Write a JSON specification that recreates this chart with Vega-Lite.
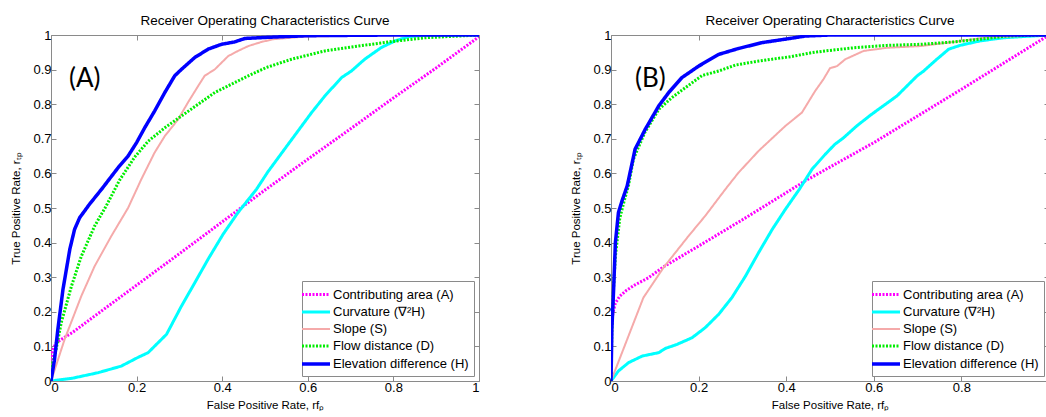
{
  "$schema": "https://vega.github.io/schema/vega-lite/v6.json",
  "padding": {"left": 10, "top": 13, "right": 0, "bottom": 0},
  "background": "white",
  "spacing": 90,
  "config": {
    "font": "Liberation Sans",
    "view": {"stroke": "#8a8a8a", "strokeWidth": 1},
    "title": {"font": "Liberation Sans", "fontSize": 13.5, "fontWeight": "normal", "color": "black", "offset": 2},
    "axis": {
      "grid": false, "domain": false, "tickColor": "#8a8a8a", "tickSize": -5, "format": "~g",
      "labelFont": "Liberation Sans", "labelFontSize": 13, "labelColor": "black", "labelPadding": 5,
      "titleFont": "Liberation Sans", "titleFontSize": 11.5, "titleFontWeight": "normal", "titleColor": "black"
    },
    "legend": {
      "orient": "bottom-right", "offset": 5, "strokeColor": "#8a8a8a", "fillColor": "white",
      "padding": 5, "symbolType": "M-2,0H2", "symbolSize": 196, "labelFont": "Liberation Sans",
      "labelFontSize": 13, "labelColor": "black", "rowPadding": 1.5, "labelLimit": 0, "labelOffset": 8
    }
  },
  "datasets": {
    "roc": [
      {"panel": "A", "series": "Contributing area (A)", "fpr": 0, "tpr": 0.06},
      {"panel": "A", "series": "Contributing area (A)", "fpr": 0.004, "tpr": 0.09},
      {"panel": "A", "series": "Contributing area (A)", "fpr": 0.012, "tpr": 0.11},
      {"panel": "A", "series": "Contributing area (A)", "fpr": 0.03, "tpr": 0.125},
      {"panel": "A", "series": "Contributing area (A)", "fpr": 0.05, "tpr": 0.14},
      {"panel": "A", "series": "Contributing area (A)", "fpr": 0.1, "tpr": 0.186},
      {"panel": "A", "series": "Contributing area (A)", "fpr": 0.2, "tpr": 0.277},
      {"panel": "A", "series": "Contributing area (A)", "fpr": 0.3, "tpr": 0.368},
      {"panel": "A", "series": "Contributing area (A)", "fpr": 0.4, "tpr": 0.46},
      {"panel": "A", "series": "Contributing area (A)", "fpr": 0.5, "tpr": 0.552},
      {"panel": "A", "series": "Contributing area (A)", "fpr": 0.6, "tpr": 0.641},
      {"panel": "A", "series": "Contributing area (A)", "fpr": 0.7, "tpr": 0.729},
      {"panel": "A", "series": "Contributing area (A)", "fpr": 0.8, "tpr": 0.818},
      {"panel": "A", "series": "Contributing area (A)", "fpr": 0.9, "tpr": 0.905},
      {"panel": "A", "series": "Contributing area (A)", "fpr": 1, "tpr": 0.995},

      {"panel": "A", "series": "Curvature (∇²H)", "fpr": 0, "tpr": 0},
      {"panel": "A", "series": "Curvature (∇²H)", "fpr": 0.05, "tpr": 0.008},
      {"panel": "A", "series": "Curvature (∇²H)", "fpr": 0.11, "tpr": 0.024},
      {"panel": "A", "series": "Curvature (∇²H)", "fpr": 0.164, "tpr": 0.043},
      {"panel": "A", "series": "Curvature (∇²H)", "fpr": 0.203, "tpr": 0.068},
      {"panel": "A", "series": "Curvature (∇²H)", "fpr": 0.227, "tpr": 0.082},
      {"panel": "A", "series": "Curvature (∇²H)", "fpr": 0.27, "tpr": 0.135},
      {"panel": "A", "series": "Curvature (∇²H)", "fpr": 0.305, "tpr": 0.217},
      {"panel": "A", "series": "Curvature (∇²H)", "fpr": 0.336, "tpr": 0.284},
      {"panel": "A", "series": "Curvature (∇²H)", "fpr": 0.367, "tpr": 0.352},
      {"panel": "A", "series": "Curvature (∇²H)", "fpr": 0.402, "tpr": 0.424},
      {"panel": "A", "series": "Curvature (∇²H)", "fpr": 0.437, "tpr": 0.487},
      {"panel": "A", "series": "Curvature (∇²H)", "fpr": 0.48, "tpr": 0.554},
      {"panel": "A", "series": "Curvature (∇²H)", "fpr": 0.507, "tpr": 0.605},
      {"panel": "A", "series": "Curvature (∇²H)", "fpr": 0.554, "tpr": 0.684},
      {"panel": "A", "series": "Curvature (∇²H)", "fpr": 0.609, "tpr": 0.776},
      {"panel": "A", "series": "Curvature (∇²H)", "fpr": 0.64, "tpr": 0.824},
      {"panel": "A", "series": "Curvature (∇²H)", "fpr": 0.679, "tpr": 0.877},
      {"panel": "A", "series": "Curvature (∇²H)", "fpr": 0.702, "tpr": 0.896},
      {"panel": "A", "series": "Curvature (∇²H)", "fpr": 0.733, "tpr": 0.93},
      {"panel": "A", "series": "Curvature (∇²H)", "fpr": 0.772, "tpr": 0.964},
      {"panel": "A", "series": "Curvature (∇²H)", "fpr": 0.804, "tpr": 0.983},
      {"panel": "A", "series": "Curvature (∇²H)", "fpr": 0.835, "tpr": 0.995},
      {"panel": "A", "series": "Curvature (∇²H)", "fpr": 0.87, "tpr": 0.999},
      {"panel": "A", "series": "Curvature (∇²H)", "fpr": 1, "tpr": 1},

      {"panel": "A", "series": "Slope (S)", "fpr": 0, "tpr": 0},
      {"panel": "A", "series": "Slope (S)", "fpr": 0.032, "tpr": 0.121},
      {"panel": "A", "series": "Slope (S)", "fpr": 0.071, "tpr": 0.246},
      {"panel": "A", "series": "Slope (S)", "fpr": 0.102, "tpr": 0.332},
      {"panel": "A", "series": "Slope (S)", "fpr": 0.141, "tpr": 0.419},
      {"panel": "A", "series": "Slope (S)", "fpr": 0.18, "tpr": 0.5},
      {"panel": "A", "series": "Slope (S)", "fpr": 0.211, "tpr": 0.583},
      {"panel": "A", "series": "Slope (S)", "fpr": 0.242, "tpr": 0.66},
      {"panel": "A", "series": "Slope (S)", "fpr": 0.266, "tpr": 0.708},
      {"panel": "A", "series": "Slope (S)", "fpr": 0.297, "tpr": 0.756},
      {"panel": "A", "series": "Slope (S)", "fpr": 0.32, "tpr": 0.805},
      {"panel": "A", "series": "Slope (S)", "fpr": 0.344, "tpr": 0.853},
      {"panel": "A", "series": "Slope (S)", "fpr": 0.359, "tpr": 0.882},
      {"panel": "A", "series": "Slope (S)", "fpr": 0.383, "tpr": 0.901},
      {"panel": "A", "series": "Slope (S)", "fpr": 0.414, "tpr": 0.939},
      {"panel": "A", "series": "Slope (S)", "fpr": 0.437, "tpr": 0.954},
      {"panel": "A", "series": "Slope (S)", "fpr": 0.461, "tpr": 0.968},
      {"panel": "A", "series": "Slope (S)", "fpr": 0.492, "tpr": 0.98},
      {"panel": "A", "series": "Slope (S)", "fpr": 0.52, "tpr": 0.988},
      {"panel": "A", "series": "Slope (S)", "fpr": 0.6, "tpr": 0.996},
      {"panel": "A", "series": "Slope (S)", "fpr": 0.8, "tpr": 0.999},
      {"panel": "A", "series": "Slope (S)", "fpr": 1, "tpr": 1},

      {"panel": "A", "series": "Flow distance (D)", "fpr": 0, "tpr": 0},
      {"panel": "A", "series": "Flow distance (D)", "fpr": 0.004, "tpr": 0.05},
      {"panel": "A", "series": "Flow distance (D)", "fpr": 0.012, "tpr": 0.092},
      {"panel": "A", "series": "Flow distance (D)", "fpr": 0.024, "tpr": 0.169},
      {"panel": "A", "series": "Flow distance (D)", "fpr": 0.048, "tpr": 0.275},
      {"panel": "A", "series": "Flow distance (D)", "fpr": 0.071, "tpr": 0.361},
      {"panel": "A", "series": "Flow distance (D)", "fpr": 0.102, "tpr": 0.448},
      {"panel": "A", "series": "Flow distance (D)", "fpr": 0.129, "tpr": 0.506},
      {"panel": "A", "series": "Flow distance (D)", "fpr": 0.16, "tpr": 0.58},
      {"panel": "A", "series": "Flow distance (D)", "fpr": 0.196, "tpr": 0.648},
      {"panel": "A", "series": "Flow distance (D)", "fpr": 0.227, "tpr": 0.693},
      {"panel": "A", "series": "Flow distance (D)", "fpr": 0.266, "tpr": 0.732},
      {"panel": "A", "series": "Flow distance (D)", "fpr": 0.305, "tpr": 0.766},
      {"panel": "A", "series": "Flow distance (D)", "fpr": 0.344, "tpr": 0.8},
      {"panel": "A", "series": "Flow distance (D)", "fpr": 0.383, "tpr": 0.834},
      {"panel": "A", "series": "Flow distance (D)", "fpr": 0.422, "tpr": 0.858},
      {"panel": "A", "series": "Flow distance (D)", "fpr": 0.461, "tpr": 0.882},
      {"panel": "A", "series": "Flow distance (D)", "fpr": 0.503, "tpr": 0.906},
      {"panel": "A", "series": "Flow distance (D)", "fpr": 0.562, "tpr": 0.93},
      {"panel": "A", "series": "Flow distance (D)", "fpr": 0.64, "tpr": 0.954},
      {"panel": "A", "series": "Flow distance (D)", "fpr": 0.718, "tpr": 0.968},
      {"panel": "A", "series": "Flow distance (D)", "fpr": 0.796, "tpr": 0.981},
      {"panel": "A", "series": "Flow distance (D)", "fpr": 0.874, "tpr": 0.992},
      {"panel": "A", "series": "Flow distance (D)", "fpr": 1, "tpr": 1},

      {"panel": "A", "series": "Elevation difference (H)", "fpr": 0, "tpr": 0},
      {"panel": "A", "series": "Elevation difference (H)", "fpr": 0.008, "tpr": 0.06},
      {"panel": "A", "series": "Elevation difference (H)", "fpr": 0.016, "tpr": 0.149},
      {"panel": "A", "series": "Elevation difference (H)", "fpr": 0.028, "tpr": 0.265},
      {"panel": "A", "series": "Elevation difference (H)", "fpr": 0.044, "tpr": 0.381},
      {"panel": "A", "series": "Elevation difference (H)", "fpr": 0.055, "tpr": 0.438},
      {"panel": "A", "series": "Elevation difference (H)", "fpr": 0.067, "tpr": 0.472},
      {"panel": "A", "series": "Elevation difference (H)", "fpr": 0.09, "tpr": 0.511},
      {"panel": "A", "series": "Elevation difference (H)", "fpr": 0.118, "tpr": 0.554},
      {"panel": "A", "series": "Elevation difference (H)", "fpr": 0.157, "tpr": 0.617},
      {"panel": "A", "series": "Elevation difference (H)", "fpr": 0.18, "tpr": 0.65},
      {"panel": "A", "series": "Elevation difference (H)", "fpr": 0.2, "tpr": 0.689},
      {"panel": "A", "series": "Elevation difference (H)", "fpr": 0.219, "tpr": 0.732},
      {"panel": "A", "series": "Elevation difference (H)", "fpr": 0.242, "tpr": 0.78},
      {"panel": "A", "series": "Elevation difference (H)", "fpr": 0.266, "tpr": 0.834},
      {"panel": "A", "series": "Elevation difference (H)", "fpr": 0.289, "tpr": 0.882},
      {"panel": "A", "series": "Elevation difference (H)", "fpr": 0.305, "tpr": 0.901},
      {"panel": "A", "series": "Elevation difference (H)", "fpr": 0.336, "tpr": 0.935},
      {"panel": "A", "series": "Elevation difference (H)", "fpr": 0.367, "tpr": 0.959},
      {"panel": "A", "series": "Elevation difference (H)", "fpr": 0.398, "tpr": 0.973},
      {"panel": "A", "series": "Elevation difference (H)", "fpr": 0.429, "tpr": 0.98},
      {"panel": "A", "series": "Elevation difference (H)", "fpr": 0.453, "tpr": 0.99},
      {"panel": "A", "series": "Elevation difference (H)", "fpr": 0.5, "tpr": 0.993},
      {"panel": "A", "series": "Elevation difference (H)", "fpr": 0.6, "tpr": 0.998},
      {"panel": "A", "series": "Elevation difference (H)", "fpr": 0.8, "tpr": 1},
      {"panel": "A", "series": "Elevation difference (H)", "fpr": 1, "tpr": 1},

      {"panel": "B", "series": "Contributing area (A)", "fpr": 0, "tpr": 0.15},
      {"panel": "B", "series": "Contributing area (A)", "fpr": 0.002, "tpr": 0.175},
      {"panel": "B", "series": "Contributing area (A)", "fpr": 0.005, "tpr": 0.2},
      {"panel": "B", "series": "Contributing area (A)", "fpr": 0.01, "tpr": 0.225},
      {"panel": "B", "series": "Contributing area (A)", "fpr": 0.02, "tpr": 0.245},
      {"panel": "B", "series": "Contributing area (A)", "fpr": 0.035, "tpr": 0.262},
      {"panel": "B", "series": "Contributing area (A)", "fpr": 0.055, "tpr": 0.278},
      {"panel": "B", "series": "Contributing area (A)", "fpr": 0.085, "tpr": 0.298},
      {"panel": "B", "series": "Contributing area (A)", "fpr": 0.12, "tpr": 0.33},
      {"panel": "B", "series": "Contributing area (A)", "fpr": 0.2, "tpr": 0.39},
      {"panel": "B", "series": "Contributing area (A)", "fpr": 0.3, "tpr": 0.466},
      {"panel": "B", "series": "Contributing area (A)", "fpr": 0.443, "tpr": 0.578},
      {"panel": "B", "series": "Contributing area (A)", "fpr": 0.6, "tpr": 0.689},
      {"panel": "B", "series": "Contributing area (A)", "fpr": 0.8, "tpr": 0.843},
      {"panel": "B", "series": "Contributing area (A)", "fpr": 1, "tpr": 1},

      {"panel": "B", "series": "Curvature (∇²H)", "fpr": 0, "tpr": 0},
      {"panel": "B", "series": "Curvature (∇²H)", "fpr": 0.017, "tpr": 0.029},
      {"panel": "B", "series": "Curvature (∇²H)", "fpr": 0.04, "tpr": 0.053},
      {"panel": "B", "series": "Curvature (∇²H)", "fpr": 0.071, "tpr": 0.072},
      {"panel": "B", "series": "Curvature (∇²H)", "fpr": 0.109, "tpr": 0.082},
      {"panel": "B", "series": "Curvature (∇²H)", "fpr": 0.124, "tpr": 0.094},
      {"panel": "B", "series": "Curvature (∇²H)", "fpr": 0.151, "tpr": 0.106},
      {"panel": "B", "series": "Curvature (∇²H)", "fpr": 0.185, "tpr": 0.125},
      {"panel": "B", "series": "Curvature (∇²H)", "fpr": 0.215, "tpr": 0.154},
      {"panel": "B", "series": "Curvature (∇²H)", "fpr": 0.246, "tpr": 0.193},
      {"panel": "B", "series": "Curvature (∇²H)", "fpr": 0.276, "tpr": 0.241},
      {"panel": "B", "series": "Curvature (∇²H)", "fpr": 0.307, "tpr": 0.303},
      {"panel": "B", "series": "Curvature (∇²H)", "fpr": 0.337, "tpr": 0.371},
      {"panel": "B", "series": "Curvature (∇²H)", "fpr": 0.368, "tpr": 0.438},
      {"panel": "B", "series": "Curvature (∇²H)", "fpr": 0.398, "tpr": 0.496},
      {"panel": "B", "series": "Curvature (∇²H)", "fpr": 0.43, "tpr": 0.554},
      {"panel": "B", "series": "Curvature (∇²H)", "fpr": 0.459, "tpr": 0.612},
      {"panel": "B", "series": "Curvature (∇²H)", "fpr": 0.489, "tpr": 0.655},
      {"panel": "B", "series": "Curvature (∇²H)", "fpr": 0.511, "tpr": 0.684},
      {"panel": "B", "series": "Curvature (∇²H)", "fpr": 0.531, "tpr": 0.703},
      {"panel": "B", "series": "Curvature (∇²H)", "fpr": 0.561, "tpr": 0.737},
      {"panel": "B", "series": "Curvature (∇²H)", "fpr": 0.592, "tpr": 0.768},
      {"panel": "B", "series": "Curvature (∇²H)", "fpr": 0.653, "tpr": 0.824},
      {"panel": "B", "series": "Curvature (∇²H)", "fpr": 0.699, "tpr": 0.882},
      {"panel": "B", "series": "Curvature (∇²H)", "fpr": 0.714, "tpr": 0.896},
      {"panel": "B", "series": "Curvature (∇²H)", "fpr": 0.744, "tpr": 0.93},
      {"panel": "B", "series": "Curvature (∇²H)", "fpr": 0.771, "tpr": 0.959},
      {"panel": "B", "series": "Curvature (∇²H)", "fpr": 0.797, "tpr": 0.97},
      {"panel": "B", "series": "Curvature (∇²H)", "fpr": 0.843, "tpr": 0.983},
      {"panel": "B", "series": "Curvature (∇²H)", "fpr": 0.896, "tpr": 0.992},
      {"panel": "B", "series": "Curvature (∇²H)", "fpr": 1, "tpr": 1},

      {"panel": "B", "series": "Slope (S)", "fpr": 0, "tpr": 0},
      {"panel": "B", "series": "Slope (S)", "fpr": 0.074, "tpr": 0.241},
      {"panel": "B", "series": "Slope (S)", "fpr": 0.12, "tpr": 0.328},
      {"panel": "B", "series": "Slope (S)", "fpr": 0.177, "tpr": 0.419},
      {"panel": "B", "series": "Slope (S)", "fpr": 0.215, "tpr": 0.477},
      {"panel": "B", "series": "Slope (S)", "fpr": 0.261, "tpr": 0.554},
      {"panel": "B", "series": "Slope (S)", "fpr": 0.291, "tpr": 0.602},
      {"panel": "B", "series": "Slope (S)", "fpr": 0.337, "tpr": 0.665},
      {"panel": "B", "series": "Slope (S)", "fpr": 0.398, "tpr": 0.737},
      {"panel": "B", "series": "Slope (S)", "fpr": 0.436, "tpr": 0.776},
      {"panel": "B", "series": "Slope (S)", "fpr": 0.466, "tpr": 0.838},
      {"panel": "B", "series": "Slope (S)", "fpr": 0.485, "tpr": 0.872},
      {"panel": "B", "series": "Slope (S)", "fpr": 0.5, "tpr": 0.904},
      {"panel": "B", "series": "Slope (S)", "fpr": 0.516, "tpr": 0.91},
      {"panel": "B", "series": "Slope (S)", "fpr": 0.535, "tpr": 0.93},
      {"panel": "B", "series": "Slope (S)", "fpr": 0.577, "tpr": 0.954},
      {"panel": "B", "series": "Slope (S)", "fpr": 0.63, "tpr": 0.963},
      {"panel": "B", "series": "Slope (S)", "fpr": 0.706, "tpr": 0.968},
      {"panel": "B", "series": "Slope (S)", "fpr": 0.782, "tpr": 0.98},
      {"panel": "B", "series": "Slope (S)", "fpr": 0.858, "tpr": 0.993},
      {"panel": "B", "series": "Slope (S)", "fpr": 1, "tpr": 1},

      {"panel": "B", "series": "Flow distance (D)", "fpr": 0, "tpr": 0},
      {"panel": "B", "series": "Flow distance (D)", "fpr": 0.002, "tpr": 0.15},
      {"panel": "B", "series": "Flow distance (D)", "fpr": 0.005, "tpr": 0.25},
      {"panel": "B", "series": "Flow distance (D)", "fpr": 0.01, "tpr": 0.36},
      {"panel": "B", "series": "Flow distance (D)", "fpr": 0.02, "tpr": 0.47},
      {"panel": "B", "series": "Flow distance (D)", "fpr": 0.03, "tpr": 0.52},
      {"panel": "B", "series": "Flow distance (D)", "fpr": 0.04, "tpr": 0.565},
      {"panel": "B", "series": "Flow distance (D)", "fpr": 0.051, "tpr": 0.64},
      {"panel": "B", "series": "Flow distance (D)", "fpr": 0.059, "tpr": 0.665},
      {"panel": "B", "series": "Flow distance (D)", "fpr": 0.078, "tpr": 0.72},
      {"panel": "B", "series": "Flow distance (D)", "fpr": 0.109, "tpr": 0.785},
      {"panel": "B", "series": "Flow distance (D)", "fpr": 0.139, "tpr": 0.819},
      {"panel": "B", "series": "Flow distance (D)", "fpr": 0.17, "tpr": 0.848},
      {"panel": "B", "series": "Flow distance (D)", "fpr": 0.208, "tpr": 0.883},
      {"panel": "B", "series": "Flow distance (D)", "fpr": 0.246, "tpr": 0.896},
      {"panel": "B", "series": "Flow distance (D)", "fpr": 0.284, "tpr": 0.913},
      {"panel": "B", "series": "Flow distance (D)", "fpr": 0.329, "tpr": 0.923},
      {"panel": "B", "series": "Flow distance (D)", "fpr": 0.368, "tpr": 0.93},
      {"panel": "B", "series": "Flow distance (D)", "fpr": 0.413, "tpr": 0.938},
      {"panel": "B", "series": "Flow distance (D)", "fpr": 0.459, "tpr": 0.949},
      {"panel": "B", "series": "Flow distance (D)", "fpr": 0.489, "tpr": 0.954},
      {"panel": "B", "series": "Flow distance (D)", "fpr": 0.554, "tpr": 0.963},
      {"panel": "B", "series": "Flow distance (D)", "fpr": 0.63, "tpr": 0.97},
      {"panel": "B", "series": "Flow distance (D)", "fpr": 0.706, "tpr": 0.973},
      {"panel": "B", "series": "Flow distance (D)", "fpr": 0.782, "tpr": 0.98},
      {"panel": "B", "series": "Flow distance (D)", "fpr": 0.858, "tpr": 0.99},
      {"panel": "B", "series": "Flow distance (D)", "fpr": 0.904, "tpr": 0.997},
      {"panel": "B", "series": "Flow distance (D)", "fpr": 1, "tpr": 1},

      {"panel": "B", "series": "Elevation difference (H)", "fpr": 0, "tpr": 0},
      {"panel": "B", "series": "Elevation difference (H)", "fpr": 0.002, "tpr": 0.15},
      {"panel": "B", "series": "Elevation difference (H)", "fpr": 0.006, "tpr": 0.265},
      {"panel": "B", "series": "Elevation difference (H)", "fpr": 0.01, "tpr": 0.4},
      {"panel": "B", "series": "Elevation difference (H)", "fpr": 0.017, "tpr": 0.487},
      {"panel": "B", "series": "Elevation difference (H)", "fpr": 0.025, "tpr": 0.52},
      {"panel": "B", "series": "Elevation difference (H)", "fpr": 0.037, "tpr": 0.564},
      {"panel": "B", "series": "Elevation difference (H)", "fpr": 0.055, "tpr": 0.67},
      {"panel": "B", "series": "Elevation difference (H)", "fpr": 0.078, "tpr": 0.727},
      {"panel": "B", "series": "Elevation difference (H)", "fpr": 0.109, "tpr": 0.795},
      {"panel": "B", "series": "Elevation difference (H)", "fpr": 0.132, "tpr": 0.834},
      {"panel": "B", "series": "Elevation difference (H)", "fpr": 0.162, "tpr": 0.877},
      {"panel": "B", "series": "Elevation difference (H)", "fpr": 0.2, "tpr": 0.91},
      {"panel": "B", "series": "Elevation difference (H)", "fpr": 0.246, "tpr": 0.944},
      {"panel": "B", "series": "Elevation difference (H)", "fpr": 0.291, "tpr": 0.961},
      {"panel": "B", "series": "Elevation difference (H)", "fpr": 0.345, "tpr": 0.978},
      {"panel": "B", "series": "Elevation difference (H)", "fpr": 0.398, "tpr": 0.988},
      {"panel": "B", "series": "Elevation difference (H)", "fpr": 0.444, "tpr": 0.997},
      {"panel": "B", "series": "Elevation difference (H)", "fpr": 0.5, "tpr": 1},
      {"panel": "B", "series": "Elevation difference (H)", "fpr": 1, "tpr": 1}
    ]
  },
  "hconcat": [
    {
      "width": 428,
      "height": 346,
      "title": "Receiver Operating Characteristics Curve",
      "resolve": {"axis": {"x": "independent", "y": "independent"}},
      "layer": [
        {
          "data": {"name": "roc"},
          "transform": [{"filter": "datum.panel === 'A'"}],
          "mark": {"type": "line", "clip": true},
          "encoding": {
            "x": {"field": "fpr", "type": "quantitative", "scale": {"domain": [0, 1], "nice": false},
                  "axis": {"orient": "bottom", "values": [0, 0.2, 0.4, 0.6, 0.8, 1], "title": "False Positive Rate, rfₚ", "titlePadding": 5}},
            "y": {"field": "tpr", "type": "quantitative", "scale": {"domain": [0, 1], "nice": false},
                  "axis": {"orient": "left", "values": [0, 0.1, 0.2, 0.3, 0.4, 0.5, 0.6, 0.7, 0.8, 0.9, 1], "title": "True Positive Rate, rₜₚ", "titlePadding": 11}},
            "color": {"field": "series", "type": "nominal",
                      "scale": {"domain": ["Contributing area (A)", "Curvature (∇²H)", "Slope (S)", "Flow distance (D)", "Elevation difference (H)"],
                                "range": ["#ff00ff", "#00ffff", "#f5aaaa", "#00ee00", "#0000ff"]},
                      "legend": {"title": null}},
            "strokeDash": {"field": "series", "type": "nominal",
                      "scale": {"domain": ["Contributing area (A)", "Curvature (∇²H)", "Slope (S)", "Flow distance (D)", "Elevation difference (H)"],
                                "range": [[2, 1.5], [1, 0], [1, 0], [2, 1.5], [1, 0]]},
                      "legend": {"title": null}},
            "strokeWidth": {"field": "series", "type": "nominal",
                      "scale": {"type": "ordinal", "domain": ["Contributing area (A)", "Curvature (∇²H)", "Slope (S)", "Flow distance (D)", "Elevation difference (H)"],
                                "range": [3, 3, 2, 3, 3.5]},
                      "legend": {"title": null}}
          }
        },
        {
          "data": {"values": [{"x": 0.042, "y": 0.85, "t": "(A)"}]},
          "mark": {"type": "text", "align": "left", "baseline": "alphabetic", "font": "Lato", "fontSize": 26, "color": "black"},
          "encoding": {
            "x": {"field": "x", "type": "quantitative", "axis": {"orient": "top", "labels": false, "title": null, "minExtent": 0, "maxExtent": 0, "values": [0, 0.2, 0.4, 0.6, 0.8, 1]}},
            "y": {"field": "y", "type": "quantitative", "axis": {"orient": "right", "labels": false, "title": null, "minExtent": 0, "maxExtent": 0, "values": [0, 0.1, 0.2, 0.3, 0.4, 0.5, 0.6, 0.7, 0.8, 0.9, 1]}},
            "text": {"field": "t"}
          }
        }
      ]
    },
    {
      "width": 438,
      "height": 346,
      "title": "Receiver Operating Characteristics Curve",
      "resolve": {"axis": {"x": "independent", "y": "independent"}},
      "layer": [
        {
          "data": {"name": "roc"},
          "transform": [{"filter": "datum.panel === 'B'"}],
          "mark": {"type": "line", "clip": true},
          "encoding": {
            "x": {"field": "fpr", "type": "quantitative", "scale": {"domain": [0, 1], "nice": false},
                  "axis": {"orient": "bottom", "values": [0, 0.2, 0.4, 0.6, 0.8], "title": "False Positive Rate, rfₚ", "titlePadding": 5}},
            "y": {"field": "tpr", "type": "quantitative", "scale": {"domain": [0, 1], "nice": false},
                  "axis": {"orient": "left", "values": [0, 0.1, 0.2, 0.3, 0.4, 0.5, 0.6, 0.7, 0.8, 0.9, 1], "title": "True Positive Rate, rₜₚ", "titlePadding": 11}},
            "color": {"field": "series", "type": "nominal",
                      "scale": {"domain": ["Contributing area (A)", "Curvature (∇²H)", "Slope (S)", "Flow distance (D)", "Elevation difference (H)"],
                                "range": ["#ff00ff", "#00ffff", "#f5aaaa", "#00ee00", "#0000ff"]},
                      "legend": {"title": null}},
            "strokeDash": {"field": "series", "type": "nominal",
                      "scale": {"domain": ["Contributing area (A)", "Curvature (∇²H)", "Slope (S)", "Flow distance (D)", "Elevation difference (H)"],
                                "range": [[2, 1.5], [1, 0], [1, 0], [2, 1.5], [1, 0]]},
                      "legend": {"title": null}},
            "strokeWidth": {"field": "series", "type": "nominal",
                      "scale": {"type": "ordinal", "domain": ["Contributing area (A)", "Curvature (∇²H)", "Slope (S)", "Flow distance (D)", "Elevation difference (H)"],
                                "range": [3, 3, 2, 3, 3.5]},
                      "legend": {"title": null}}
          }
        },
        {
          "data": {"values": [{"x": 0.055, "y": 0.85, "t": "(B)"}]},
          "mark": {"type": "text", "align": "left", "baseline": "alphabetic", "font": "Lato", "fontSize": 26, "color": "black"},
          "encoding": {
            "x": {"field": "x", "type": "quantitative", "axis": {"orient": "top", "labels": false, "title": null, "minExtent": 0, "maxExtent": 0, "values": [0, 0.2, 0.4, 0.6, 0.8, 1]}},
            "y": {"field": "y", "type": "quantitative", "axis": {"orient": "right", "labels": false, "title": null, "minExtent": 0, "maxExtent": 0, "values": [0, 0.1, 0.2, 0.3, 0.4, 0.5, 0.6, 0.7, 0.8, 0.9, 1]}},
            "text": {"field": "t"}
          }
        }
      ]
    }
  ],
  "resolve": {"scale": {"color": "independent", "strokeDash": "independent", "strokeWidth": "independent"}}
}
